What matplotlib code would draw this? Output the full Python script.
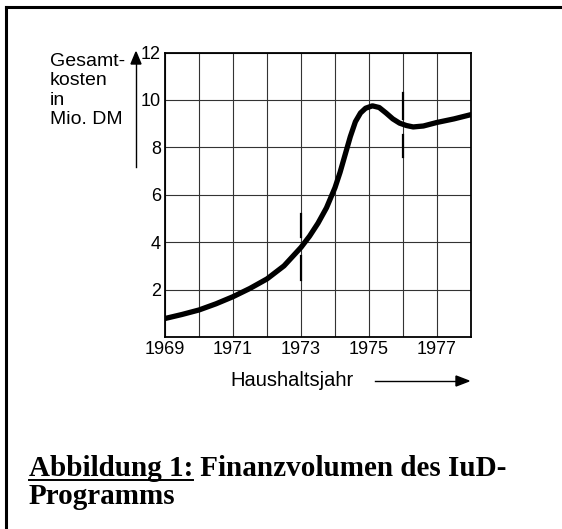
import matplotlib
matplotlib.use("Agg")
import matplotlib.pyplot as plt
from matplotlib.lines import Line2D

# Gesamtkosten des IuD-Programms (Mio. DM)
jahre = [1969, 1969.5, 1970, 1970.5, 1971, 1971.5, 1972, 1972.5, 1973, 1973.25,
         1973.5, 1973.75, 1974, 1974.15, 1974.3, 1974.45, 1974.6, 1974.75,
         1974.9, 1975.1, 1975.3, 1975.5, 1975.7, 1975.9, 1976.1, 1976.3,
         1976.6, 1977, 1977.5, 1978]
kosten = [0.78, 0.95, 1.14, 1.4, 1.7, 2.05, 2.45, 3.0, 3.78, 4.25,
          4.8, 5.45, 6.3, 6.95, 7.7, 8.45, 9.08, 9.45,
          9.65, 9.75, 9.68, 9.45, 9.2, 9.02, 8.92, 8.86,
          8.9, 9.05, 9.2, 9.38]

# Markierungen (senkrechte Striche) bei 1973 und 1976
marken_x = [1973, 1976]
marken_unten = [(2.4, 3.4), (7.6, 8.5)]
marken_oben = [(4.2, 5.2), (9.2, 10.3)]

x_ticks = list(range(1969, 1979))
x_labels = [str(j) if j % 2 == 1 else "" for j in x_ticks]
y_ticks = [2, 4, 6, 8, 10, 12]

W, H = 562, 529
fig = plt.figure(figsize=(W / 100, H / 100), dpi=100)

def fx(px):
    return px / W

def fy(py):
    return 1 - py / H

ax = fig.add_axes([fx(165), fy(337), fx(471) - fx(165), fy(52.5) - fy(337)])
ax.set_xlim(1969, 1978)
ax.set_ylim(0, 12)
ax.set_xticks(x_ticks)
ax.set_xticklabels(x_labels, family="Liberation Sans", fontsize=13)
ax.set_yticks(y_ticks)
ax.set_yticklabels([str(v) for v in y_ticks], family="Liberation Sans", fontsize=13)
ax.tick_params(length=0, pad=3)
ax.grid(True, color="#333333", linewidth=0.8)
for s in ax.spines.values():
    s.set_linewidth(1.3)
    s.set_color("black")

ax.plot(jahre, kosten, color="black", linewidth=3.8, solid_capstyle="round",
        solid_joinstyle="round", zorder=3)
for mx, (u1, u2), (o1, o2) in zip(marken_x, marken_unten, marken_oben):
    ax.plot([mx, mx], [u1, u2], color="black", linewidth=1.6, zorder=4)
    ax.plot([mx, mx], [o1, o2], color="black", linewidth=1.6, zorder=4)

# Achsentitel
fig.text(fx(50), fy(53), "Gesamt-\nkosten\nin\nMio. DM", family="Liberation Sans",
         fontsize=14, va="top", ha="left", linespacing=1.18)
fig.add_artist(Line2D([fx(136), fx(136)], [fy(167), fy(62)], color="black", lw=1.0))
fig.patches.append(plt.Polygon([[fx(131), fy(64)], [fx(141), fy(64)], [fx(136), fy(52)]],
                               closed=True, color="black", transform=fig.transFigure))

fig.text(fx(292), fy(381), "Haushaltsjahr", family="Liberation Sans", fontsize=14.5,
         va="center", ha="center")
fig.add_artist(Line2D([fx(375), fx(458)], [fy(381), fy(381)], color="black", lw=1.0))
fig.patches.append(plt.Polygon([[fx(456), fy(376)], [fx(456), fy(386)], [fx(469), fy(381)]],
                               closed=True, color="black", transform=fig.transFigure))

# Rahmen
fig.add_artist(Line2D([fx(6.5), fx(6.5)], [fy(6.5), 0], color="black", lw=2.2))
fig.add_artist(Line2D([fx(6.5), 1], [fy(6.5), fy(6.5)], color="black", lw=2.2))

# Bildunterschrift
cap_font = dict(family="Liberation Serif", fontweight="bold", fontsize=21)
t1 = fig.text(fx(29), fy(476), "Abbildung 1:", va="baseline", ha="left", **cap_font)
fig.canvas.draw()
r = fig.canvas.get_renderer()
bb = t1.get_window_extent(r)
fig.text(bb.x1 / W, fy(476), " Finanzvolumen des IuD-", va="baseline", ha="left", **cap_font)
fig.add_artist(Line2D([bb.x0 / W, bb.x1 / W], [fy(479.5), fy(479.5)], color="black", lw=1.4))
fig.text(fx(29), fy(504), "Programms", va="baseline", ha="left", **cap_font)

fig.savefig("out.png", dpi=100)
